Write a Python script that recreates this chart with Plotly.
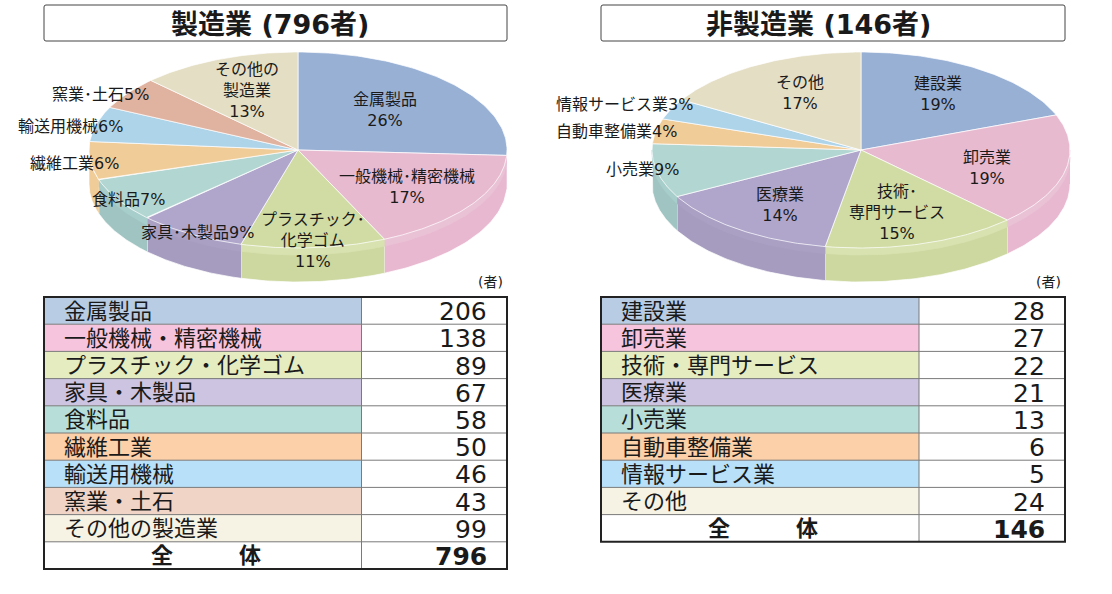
import numpy as np
import plotly.graph_objects as go

# left panel
MFG_TITLE = "<b>製造業 (796者)</b>"
MFG_ROWS = ["金属製品", "一般機械・精密機械", "プラスチック・化学ゴム", "家具・木製品", "食料品",
            "繊維工業", "輸送用機械", "窯業・土石", "その他の製造業"]
MFG_VALUES = [206, 138, 89, 67, 58, 50, 46, 43, 99]
MFG_TOTAL = 796
MFG_LABELS = ["金属製品<br>26%", "一般機械･精密機械<br>17%", "プラスチック･<br>化学ゴム<br>11%", "家具･木製品9%",
              "食料品7%", "繊維工業6%", "輸送用機械6%", "窯業･土石5%", "その他の<br>製造業<br>13%"]

# right panel
NON_TITLE = "<b>非製造業 (146者)</b>"
NON_ROWS = ["建設業", "卸売業", "技術・専門サービス", "医療業", "小売業", "自動車整備業", "情報サービス業", "その他"]
NON_VALUES = [28, 27, 22, 21, 13, 6, 5, 24]
NON_TOTAL = 146
NON_LABELS = ["建設業<br>19%", "卸売業<br>19%", "技術･<br>専門サービス<br>15%", "医療業<br>14%", "小売業9%",
              "自動車整備業4%", "情報サービス業3%", "その他<br>17%"]

TOP_COLORS = {"blue": "#98b0d4", "pink": "#e8bad0", "green": "#d0dca4", "purple": "#b0a6cc", "teal": "#b2d6d2",
              "orange": "#f0cc98", "sky": "#aed4ea", "rust": "#e0b2a0", "beige": "#e4dec4"}
SIDE_COLORS = {"blue": "#8aa2c6", "pink": "#e8b8d0", "green": "#ccd8a0", "purple": "#a69cc0", "teal": "#a0c4c2",
               "orange": "#f0cc98", "sky": "#a0c8e0", "rust": "#d0a290", "beige": "#d6d0b6"}
RIM_COLORS = {"pink": "#eac2d6", "green": "#d8e2b0", "purple": "#aaa0c4", "teal": "#a8cecb"}
CELL_COLORS = {"blue": "#b8cce4", "pink": "#f6c4dc", "green": "#e4ecc0", "purple": "#ccc4e0", "teal": "#b8deda",
               "orange": "#fcd0a8", "sky": "#b8e0f8", "rust": "#f0d4c6", "beige": "#f6f2e4"}
MFG_KEYS = ["blue", "pink", "green", "purple", "teal", "orange", "sky", "rust", "beige"]
NON_KEYS = ["blue", "pink", "green", "purple", "teal", "orange", "sky", "beige"]

# label centres in page pixels
MFG_LABEL_POS = [(385, 110), (407, 187), (313, 240), (197, 232), (128, 199), (74, 163), (70, 126), (100, 94), (247, 90)]
NON_LABEL_POS = [(938, 94), (987, 168), (897, 212), (780, 205), (642, 169), (616, 131), (624, 104), (800, 93)]

JP_FONT = "Noto Sans CJK JP"
MIX_FONT = "DejaVu Sans, Noto Sans CJK JP"
NUM_FONT = "DejaVu Sans"
RX, RY, DEPTH = 209, 98, 34
ROW_H = 27.2

fig = go.Figure()
shapes = []
notes = []


def note(x, y, text, size, anchor="center", family=JP_FONT):
    notes.append(dict(x=x, y=y, text=text, showarrow=False, xanchor=anchor, yanchor="middle",
                      font=dict(family=family, size=size, color="#1a1a1a")))


def poly(xs, ys, color, edge="white", width=0.7):
    fig.add_trace(go.Scatter(x=xs, y=ys, mode="lines", fill="toself", fillcolor=color,
                             line=dict(color=edge, width=width), hoverinfo="skip", showlegend=False))


def draw_pie(cx, cy, values, keys):
    # angles run clockwise from 12 o'clock
    edges = np.cumsum([0] + list(values)) / sum(values) * 2 * np.pi
    # side walls first, only the front half of the rim shows
    for a0, a1, key in zip(edges[:-1], edges[1:], keys):
        lo, hi = max(a0, np.pi / 2), min(a1, 3 * np.pi / 2)
        if hi <= lo:
            continue
        t = np.linspace(lo, hi, 60)
        xs = cx + RX * np.sin(t)
        ys = cy - RY * np.cos(t)
        poly(np.r_[xs, xs[::-1]], np.r_[ys, ys[::-1] + DEPTH], SIDE_COLORS[key])
        if key in RIM_COLORS:
            poly(np.r_[xs, xs[::-1]], np.r_[ys, ys[::-1] + 7], RIM_COLORS[key], RIM_COLORS[key])
    for a0, a1, key in zip(edges[:-1], edges[1:], keys):
        t = np.linspace(a0, a1, 80)
        poly(np.r_[cx, cx + RX * np.sin(t), cx], np.r_[cy, cy - RY * np.cos(t), cy], TOP_COLORS[key])


def draw_table(x0, x1, xdiv, y0, names, values, keys, total):
    n = len(names) + 1
    y1 = y0 + n * ROW_H
    for i, (name, val, key) in enumerate(zip(names, values, keys)):
        ya, yb = y0 + i * ROW_H, y0 + (i + 1) * ROW_H
        shapes.append(dict(type="rect", x0=x0, x1=xdiv, y0=ya, y1=yb, fillcolor=CELL_COLORS[key], line_width=0, layer="below"))
        note(x0 + 18, (ya + yb) / 2 - 2, name, 22, "left")
        note(x1 - 18, (ya + yb) / 2 + 1, str(val), 25, "right", NUM_FONT)
        shapes.append(dict(type="line", x0=x0, x1=x1, y0=yb, y1=yb, line=dict(color="#7a7a7a", width=1)))
    ym = y1 - ROW_H / 2
    note((x0 + xdiv) / 2 + 3, ym - 2, "<b>全   体</b>".replace(" ", "\u3000"), 22)
    note(x1 - 18, ym + 1, f"<b>{total}</b>", 25, "right", NUM_FONT)
    shapes.append(dict(type="line", x0=xdiv, x1=xdiv, y0=y0, y1=y1, line=dict(color="#7a7a7a", width=1)))
    shapes.append(dict(type="rect", x0=x0, x1=x1, y0=y0, y1=y1, line=dict(color="#222222", width=2)))


def round_box(x0, x1, y0, y1, r=2):
    return (f"M{x0 + r},{y0} L{x1 - r},{y0} Q{x1},{y0} {x1},{y0 + r} L{x1},{y1 - r} Q{x1},{y1} {x1 - r},{y1} "
            f"L{x0 + r},{y1} Q{x0},{y1} {x0},{y1 - r} L{x0},{y0 + r} Q{x0},{y0} {x0 + r},{y0} Z")


def draw_panel(x0, x1, xdiv, cx, title, title_x, names, values, keys, labels, label_pos, total):
    shapes.append(dict(type="path", path=round_box(x0, x1, 5, 41), line=dict(color="#444444", width=1)))
    note(title_x, 24, title, 27, family=MIX_FONT)
    draw_pie(cx, 150, values, keys)
    for text, (lx, ly) in zip(labels, label_pos):
        note(lx, ly, text, 16, family=MIX_FONT)
    note(x1 - 17, 282, "(者)", 14, family=MIX_FONT)
    draw_table(x0, x1, xdiv, 297, names, values, keys, total)


draw_panel(44, 507, 361.5, 298, MFG_TITLE, 270, MFG_ROWS, MFG_VALUES, MFG_KEYS, MFG_LABELS, MFG_LABEL_POS, MFG_TOTAL)
draw_panel(601, 1065, 919, 861, NON_TITLE, 818, NON_ROWS, NON_VALUES, NON_KEYS, NON_LABELS, NON_LABEL_POS, NON_TOTAL)

fig.update_layout(
    width=1112, height=594, margin=dict(l=0, r=0, t=0, b=0),
    paper_bgcolor="white", plot_bgcolor="white", showlegend=False,
    xaxis=dict(range=[0, 1112], visible=False, fixedrange=True),
    yaxis=dict(range=[594, 0], visible=False, fixedrange=True),
    shapes=shapes, annotations=notes,
)
# the page's default body margin would push the plot 8px down and right
fig.write_html("out.html", config=dict(displayModeBar=False),
               post_script="document.body.style.margin='0';document.body.style.overflow='hidden';")
